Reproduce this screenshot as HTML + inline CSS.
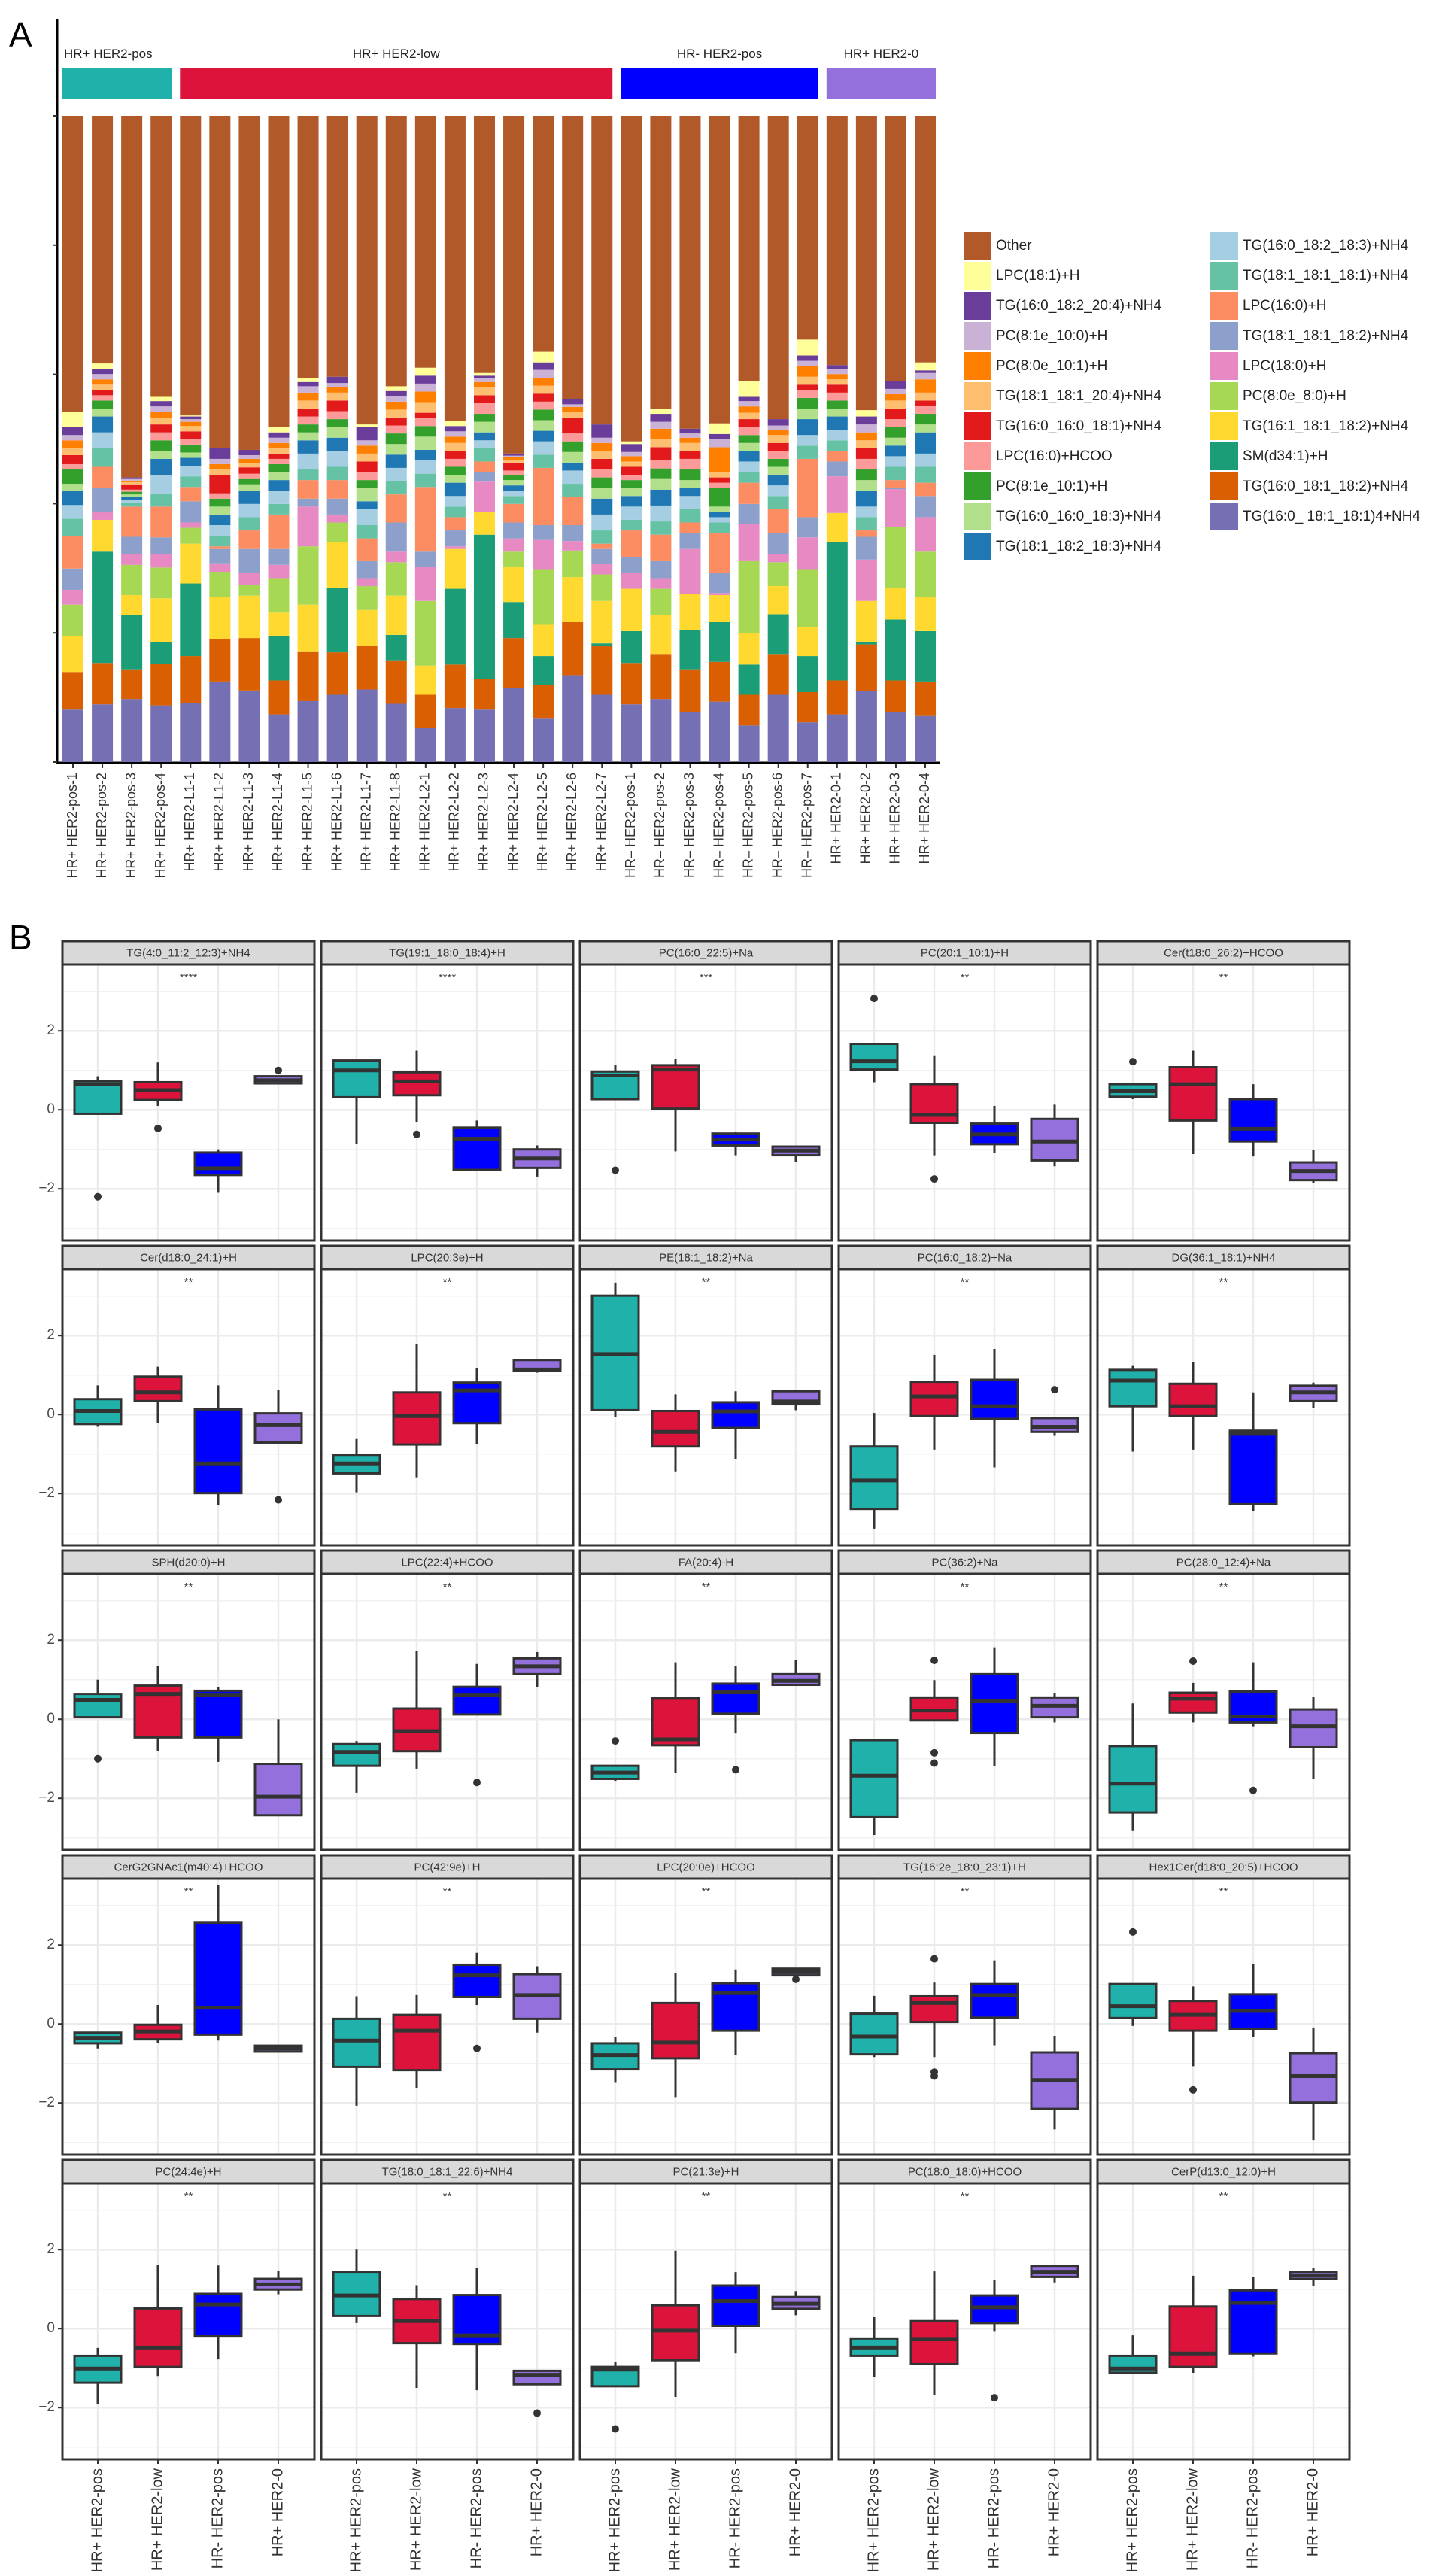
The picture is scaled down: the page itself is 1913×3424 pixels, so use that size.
<!DOCTYPE html>
<html><head><meta charset="utf-8">
<style>
html,body{margin:0;padding:0;background:#fff;}
svg{display:block;font-family:"Liberation Sans",sans-serif;}
</style></head>
<body>
<svg id="fig" xmlns="http://www.w3.org/2000/svg" width="1913" height="3424" viewBox="0 0 1913 3424"></svg>
<script>
// ---------- Panel A data ----------
const groupNames=["HR+ HER2-pos","HR+ HER2-low","HR- HER2-pos","HR+ HER2-0"];
const groupSizes=[4,15,7,4];
const groupColors=["#20B2AA","#DC143C","#0000FF","#9370DB"];
const barLabels=["HR+ HER2-pos-1","HR+ HER2-pos-2","HR+ HER2-pos-3","HR+ HER2-pos-4",
"HR+ HER2-L1-1","HR+ HER2-L1-2","HR+ HER2-L1-3","HR+ HER2-L1-4","HR+ HER2-L1-5","HR+ HER2-L1-6","HR+ HER2-L1-7","HR+ HER2-L1-8",
"HR+ HER2-L2-1","HR+ HER2-L2-2","HR+ HER2-L2-3","HR+ HER2-L2-4","HR+ HER2-L2-5","HR+ HER2-L2-6","HR+ HER2-L2-7",
"HR– HER2-pos-1","HR– HER2-pos-2","HR– HER2-pos-3","HR– HER2-pos-4","HR– HER2-pos-5","HR– HER2-pos-6","HR– HER2-pos-7",
"HR+ HER2-0-1","HR+ HER2-0-2","HR+ HER2-0-3","HR+ HER2-0-4"];
// stacking order bottom -> top
const lipidNames=["TG(16:0_ 18:1_18:1)4+NH4","TG(16:0_18:1_18:2)+NH4","SM(d34:1)+H","TG(16:1_18:1_18:2)+NH4","PC(8:0e_8:0)+H","LPC(18:0)+H","TG(18:1_18:1_18:2)+NH4","LPC(16:0)+H","TG(18:1_18:1_18:1)+NH4","TG(16:0_18:2_18:3)+NH4","TG(18:1_18:2_18:3)+NH4","TG(16:0_16:0_18:3)+NH4","PC(8:1e_10:1)+H","LPC(16:0)+HCOO","TG(16:0_16:0_18:1)+NH4","TG(18:1_18:1_20:4)+NH4","PC(8:0e_10:1)+H","PC(8:1e_10:0)+H","TG(16:0_18:2_20:4)+NH4","LPC(18:1)+H","Other"];
const lipidColors=["#7570B3","#D95F02","#1B9E77","#FFD92F","#A6D854","#E78AC3","#8DA0CB","#FC8D62","#66C2A5","#A6CEE3","#1F78B4","#B2DF8A","#33A02C","#FB9A99","#E31A1C","#FDBF6F","#FF7F00","#CAB2D6","#6A3D9A","#FFFF99","#B15928"];
const barValues=[
[99,71,0,67,60,28,40,62,32,26,27,13,27,10,17,13,15,10,15,28,559],
[109,78,210,60,0,15,45,40,35,30,30,15,15,10,10,10,10,10,10,10,467],
[119,56,102,38,57,20,33,57,8,5,5,5,5,4,10,4,3,3,3,0,682],
[107,78,42,82,58,25,32,58,25,35,30,15,20,15,15,12,12,10,10,8,530],
[112,88,137,75,30,10,40,27,20,20,15,10,15,10,15,10,8,5,5,2,565],
[152,80,0,80,47,16,27,5,20,20,20,15,15,10,35,10,10,10,20,0,627],
[135,99,0,80,20,23,45,35,25,25,25,12,10,10,12,8,8,7,10,0,630],
[90,64,83,45,65,25,30,65,20,25,20,15,15,10,10,10,10,10,10,10,587],
[115,94,0,88,110,75,15,35,20,30,25,15,15,15,15,15,15,12,8,8,494],
[127,80,122,86,37,15,30,35,25,30,25,20,15,15,20,15,10,8,12,0,492],
[137,82,0,68,45,15,32,43,25,30,15,25,15,15,20,15,15,10,25,5,582],
[110,82,48,74,63,20,55,53,25,25,25,20,20,15,15,15,15,10,10,9,510],
[64,63,0,55,122,65,28,122,25,25,20,25,20,15,10,20,20,15,15,15,475],
[102,82,143,75,0,5,30,25,20,20,25,15,15,15,15,15,12,10,10,10,575],
[99,58,272,43,0,57,18,20,25,15,15,20,15,20,15,15,10,7,5,5,485],
[140,94,68,67,28,25,30,35,15,10,10,10,10,8,15,5,5,3,4,0,637],
[82,63,55,59,105,55,28,108,25,25,20,20,20,15,15,15,15,15,14,20,445],
[164,100,0,85,50,18,30,53,25,25,15,20,20,15,30,10,10,5,9,0,535],
[127,92,5,80,50,20,28,10,25,30,30,20,20,15,20,15,15,10,25,0,582],
[109,78,60,80,0,30,30,50,20,25,20,15,15,10,15,10,10,8,15,5,614],
[119,85,0,73,50,20,32,50,25,30,30,20,20,15,25,15,20,13,15,10,552],
[95,80,74,68,0,85,30,20,25,25,15,15,20,20,15,15,10,8,9,0,590],
[114,75,75,51,0,4,38,75,20,10,10,10,35,10,10,10,47,15,10,20,580],
[69,58,57,60,135,70,38,40,20,20,20,15,15,15,15,12,12,10,8,30,500],
[127,77,75,53,45,15,40,45,25,20,20,15,15,15,15,15,10,8,12,0,572],
[75,57,68,55,109,60,38,110,25,20,30,20,20,15,10,15,20,10,10,30,422],
[90,64,261,55,0,69,28,20,20,20,25,15,15,15,15,10,10,10,7,0,470],
[134,88,5,77,0,78,43,12,25,20,30,20,20,20,20,15,15,15,15,12,555],
[94,60,115,60,115,71,2,15,25,20,20,15,20,15,20,15,12,10,15,0,500],
[87,65,95,65,85,65,40,25,30,25,40,15,20,15,10,15,25,12,5,15,465]
];
const yTicksA=[0,0.2,0.4,0.6,0.8,1.0];

// ---------- Panel B data ----------
const catNames=["HR+ HER2-pos","HR+ HER2-low","HR- HER2-pos","HR+ HER2-0"];
const catColors=["#20B2AA","#DC143C","#0000FF","#9370DB"];
const facetTitles=["TG(4:0_11:2_12:3)+NH4","TG(19:1_18:0_18:4)+H","PC(16:0_22:5)+Na","PC(20:1_10:1)+H","Cer(t18:0_26:2)+HCOO",
"Cer(d18:0_24:1)+H","LPC(20:3e)+H","PE(18:1_18:2)+Na","PC(16:0_18:2)+Na","DG(36:1_18:1)+NH4",
"SPH(d20:0)+H","LPC(22:4)+HCOO","FA(20:4)-H","PC(36:2)+Na","PC(28:0_12:4)+Na",
"CerG2GNAc1(m40:4)+HCOO","PC(42:9e)+H","LPC(20:0e)+HCOO","TG(16:2e_18:0_23:1)+H","Hex1Cer(d18:0_20:5)+HCOO",
"PC(24:4e)+H","TG(18:0_18:1_22:6)+NH4","PC(21:3e)+H","PC(18:0_18:0)+HCOO","CerP(d13:0_12:0)+H"];
const facetSig=["****","****","***","**","**","**","**","**","**","**","**","**","**","**","**","**","**","**","**","**","**","**","**","**","**"];
// [whisker-low, q1, median, q3, whisker-high]
const boxStats=[
[[-0.1,-0.1,0.65,0.73,0.85],[0.1,0.25,0.5,0.7,1.2],[-2.1,-1.65,-1.48,-1.08,-1.0],[0.67,0.67,0.75,0.85,0.85]],
[[-0.87,0.32,1.0,1.25,1.25],[-0.3,0.37,0.72,0.95,1.5],[-1.52,-1.52,-0.73,-0.45,-0.27],[-1.69,-1.47,-1.23,-1.0,-0.9]],
[[0.27,0.27,0.87,0.97,1.13],[-1.05,0.03,1.02,1.13,1.28],[-1.15,-0.9,-0.75,-0.6,-0.55],[-1.32,-1.15,-1.03,-0.93,-0.93]],
[[0.7,1.02,1.23,1.67,1.67],[-1.15,-0.33,-0.13,0.65,1.38],[-1.1,-0.87,-0.62,-0.35,0.1],[-1.43,-1.28,-0.8,-0.23,0.13]],
[[0.27,0.33,0.47,0.65,0.65],[-1.12,-0.27,0.65,1.08,1.5],[-1.18,-0.8,-0.48,0.27,0.65],[-1.85,-1.78,-1.55,-1.33,-1.02]],
[[-0.31,-0.24,0.09,0.39,0.74],[-0.21,0.34,0.56,0.96,1.21],[-2.29,-1.99,-1.24,0.13,0.74],[-0.71,-0.71,-0.27,0.03,0.63]],
[[-1.97,-1.49,-1.24,-1.02,-0.62],[-1.59,-0.76,-0.04,0.56,1.78],[-0.74,-0.22,0.61,0.81,1.18],[1.06,1.11,1.14,1.38,1.38]],
[[-0.07,0.11,1.53,3.01,3.34],[-1.44,-0.81,-0.44,0.09,0.51],[-1.12,-0.34,0.08,0.31,0.59],[0.11,0.26,0.33,0.59,0.59]],
[[-2.89,-2.39,-1.67,-0.81,0.04],[-0.89,-0.04,0.46,0.83,1.51],[-1.34,-0.11,0.21,0.88,1.66],[-0.54,-0.44,-0.31,-0.09,-0.09]],
[[-0.94,0.21,0.86,1.13,1.23],[-0.89,-0.04,0.21,0.78,1.33],[-2.44,-2.27,-0.49,-0.41,0.56],[0.16,0.34,0.56,0.73,0.81]],
[[0.05,0.05,0.49,0.64,1.0],[-0.8,-0.46,0.64,0.85,1.35],[-1.08,-0.46,0.62,0.72,0.82],[-2.43,-2.43,-1.96,-1.13,0]],
[[-1.86,-1.18,-0.83,-0.63,-0.55],[-1.25,-0.81,-0.3,0.27,1.72],[0.12,0.12,0.62,0.82,1.4],[0.82,1.14,1.34,1.54,1.7]],
[[-1.56,-1.51,-1.35,-1.18,-1.18],[-1.35,-0.66,-0.51,0.54,1.44],[-0.36,0.14,0.69,0.9,1.34],[0.87,0.87,0.97,1.14,1.5]],
[[-2.93,-2.48,-1.43,-0.53,-0.53],[-0.03,-0.03,0.22,0.55,0.99],[-1.18,-0.35,0.47,1.14,1.82],[-0.08,0.05,0.34,0.55,0.67]],
[[-2.83,-2.36,-1.63,-0.68,0.4],[-0.08,0.17,0.52,0.67,0.92],[-0.18,-0.08,0.07,0.7,1.44],[-1.5,-0.71,-0.18,0.25,0.57]],
[[-0.62,-0.49,-0.35,-0.22,-0.22],[-0.49,-0.39,-0.19,-0.02,0.48],[-0.42,-0.27,0.41,2.56,3.51],[-0.7,-0.7,-0.62,-0.55,-0.55]],
[[-2.07,-1.09,-0.42,0.13,0.7],[-1.62,-1.17,-0.17,0.23,0.73],[0.48,0.68,1.23,1.5,1.8],[-0.22,0.13,0.73,1.26,1.46]],
[[-1.49,-1.15,-0.79,-0.49,-0.32],[-1.85,-0.87,-0.47,0.53,1.28],[-0.79,-0.17,0.78,1.03,1.38],[1.23,1.23,1.31,1.4,1.4]],
[[-0.84,-0.77,-0.32,0.26,0.71],[-0.84,0.05,0.53,0.7,1.05],[-0.54,0.16,0.73,1.01,1.61],[-2.67,-2.15,-1.42,-0.72,-0.3]],
[[-0.05,0.15,0.45,1.01,1.01],[-1.07,-0.17,0.23,0.58,0.95],[-0.32,-0.12,0.33,0.75,1.51],[-2.95,-1.99,-1.32,-0.74,-0.09]],
[[-1.9,-1.37,-1.01,-0.69,-0.49],[-1.2,-0.97,-0.48,0.51,1.61],[-0.78,-0.18,0.61,0.88,1.6],[0.87,0.99,1.12,1.26,1.46]],
[[0.14,0.32,0.84,1.44,2.0],[-1.5,-0.37,0.19,0.75,1.1],[-1.56,-0.39,-0.17,0.85,1.54],[-1.41,-1.41,-1.17,-1.07,-1.07]],
[[-1.46,-1.46,-1.04,-0.97,-0.85],[-1.73,-0.8,-0.05,0.59,1.97],[-0.63,0.07,0.7,1.09,1.43],[0.34,0.5,0.63,0.8,0.95]],
[[-1.22,-0.69,-0.48,-0.25,0.29],[-1.68,-0.9,-0.26,0.19,1.45],[-0.08,0.14,0.54,0.84,1.24],[1.17,1.31,1.44,1.59,1.6]],
[[-1.12,-1.12,-1.01,-0.69,-0.17],[-1.12,-0.97,-0.63,0.56,1.34],[-0.71,-0.63,0.65,0.97,1.31],[1.09,1.26,1.35,1.44,1.53]]
];
const outlierVals=[
[[-2.2],[-0.47],[],[1.0]],[[],[-0.62],[],[]],[[-1.53],[],[],[]],[[2.82],[-1.75],[],[]],[[1.22],[],[],[]],
[[],[],[],[-2.16]],[[],[],[],[]],[[],[],[],[]],[[],[],[],[0.63]],[[],[],[],[]],
[[-1.0],[],[],[]],[[],[],[-1.6],[]],[[-0.55],[],[-1.28],[]],[[],[1.49,-0.85,-1.11],[],[]],[[],[1.47],[-1.8],[]],
[[],[],[],[]],[[],[],[-0.62],[]],[[],[],[],[1.13]],[[],[1.65,-1.22,-1.32],[],[]],[[2.33],[-1.67],[],[]],
[[],[],[],[]],[[],[],[],[-2.14]],[[-2.54],[],[],[]],[[],[],[-1.75],[]],[[],[],[],[]]
];
const yTicksB=[-2,0,2];
const yMinorB=[-3,-1,1,3];

// ---------- drawing ----------
const NS="http://www.w3.org/2000/svg";
const svg=document.getElementById('fig');
function mk(tag,attrs,parent){const e=document.createElementNS(NS,tag);for(const k in attrs)e.setAttribute(k,attrs[k]);(parent||svg).appendChild(e);return e;}
function txt(str,attrs,parent){const e=mk('text',attrs,parent);e.textContent=str;return e;}

// Panel A scales
const A_BOT=1013, A_TOP=154, A_X0=83, A_PITCH=39.07, A_BW=28;
const yA=f=>A_BOT-f*(A_BOT-A_TOP);
const xA=i=>A_X0+i*A_PITCH;

let el;
el=txt("A",{x:12,y:62,'font-size':46,fill:'#000'});



// axes
el=mk('line',{x1:76,y1:25,x2:76,y2:A_BOT+2,stroke:'#000','stroke-width':3});


el=mk('line',{x1:75,y1:A_BOT+1,x2:1250,y2:A_BOT+1,stroke:'#000','stroke-width':3});


yTicksA.forEach(t=>{
  el=mk('line',{x1:70,y1:yA(t),x2:76,y2:yA(t),stroke:'#333','stroke-width':2});
  
  
});

// group header bars
let start=0;
groupNames.forEach((g,gi)=>{
  const x1=xA(start), x2=xA(start+groupSizes[gi]-1)+A_BW;
  el=mk('rect',{x:x1,y:90,width:x2-x1,height:42,fill:groupColors[gi]});
  
  
  const tx = gi==0? x1+2 : (x1+x2)/2;
  el=txt(g,{x:tx,y:77,'font-size':17,fill:'#222','text-anchor':gi==0?'start':'middle'});
  
  
  start+=groupSizes[gi];
});

// stacked bars
barValues.forEach((vals,i)=>{
  const total=vals.reduce((a,b)=>a+b,0);
  let cum=0;
  vals.forEach((v,k)=>{
    if(v<=0)return;
    const y1=yA((cum+v)/total), y0=yA(cum/total);
    el=mk('rect',{x:xA(i),y:y1,width:A_BW,height:y0-y1,fill:lipidColors[k]});
    
    
    cum+=v;
  });
  const cx=xA(i)+A_BW/2;
  el=mk('line',{x1:cx,y1:A_BOT+2,x2:cx,y2:A_BOT+8,stroke:'#333','stroke-width':2});
  
  
  el=txt(barLabels[i],{x:cx,y:A_BOT+14,'font-size':18,fill:'#333','text-anchor':'end','dominant-baseline':'middle',transform:`rotate(-90 ${cx} ${A_BOT+14})`});
  
  
});

// legend
for(let r=0;r<lipidNames.length;r++){
  const k=lipidNames.length-1-r;
  const col=r<11?0:1, row=r<11?r:r-11;
  const sx=col==0?1281:1609, sy=308+row*40;
  el=mk('rect',{x:sx,y:sy,width:37,height:37,fill:lipidColors[k]});
  
  
  el=txt(lipidNames[k],{x:sx+43,y:sy+19,'font-size':19,fill:'#222','dominant-baseline':'middle'});
  
  
}

// Panel B
el=txt("B",{x:12,y:1262,'font-size':46,fill:'#000'});



const P_X0=83, P_PITCH=344, P_W=335, R_Y0=1251, R_PITCH=405, STRIP=31, P_H=367;
const V_TOP=3.68, V_UNIT=52.5;
const catOff=[47,127,207,287];
const BOXW=62;

facetTitles.forEach((title,f)=>{
  const col=f%5, row=Math.floor(f/5);
  const px=P_X0+col*P_PITCH, top=R_Y0+row*R_PITCH, ptop=top+STRIP;
  const yB=v=>ptop+(V_TOP-v)*V_UNIT;
  const g=mk('g',{});
  
  
  el=mk('rect',{x:px,y:ptop,width:P_W,height:P_H,fill:'#fff'},g);
  
  
  yMinorB.forEach(t=>{
    el=mk('line',{x1:px,y1:yB(t),x2:px+P_W,y2:yB(t),stroke:'#F2F2F2','stroke-width':1.5},g);
    
    
  });
  yTicksB.forEach(t=>{
    el=mk('line',{x1:px,y1:yB(t),x2:px+P_W,y2:yB(t),stroke:'#EBEBEB','stroke-width':2.5},g);
    
    
  });
  catOff.forEach(o=>{
    el=mk('line',{x1:px+o,y1:ptop,x2:px+o,y2:ptop+P_H,stroke:'#EBEBEB','stroke-width':2.5},g);
    
    
  });
  // boxes
  boxStats[f].forEach((s,c)=>{
    const cx=px+catOff[c];
    el=mk('line',{x1:cx,y1:yB(s[0]),x2:cx,y2:yB(s[4]),stroke:'#333','stroke-width':3},g);
    
    
    const y3=yB(s[3]), y1=yB(s[1]);
    el=mk('rect',{x:cx-BOXW/2,y:y3,width:BOXW,height:Math.max(y1-y3,1),fill:catColors[c],stroke:'#333','stroke-width':3},g);
    
    
    el=mk('line',{x1:cx-BOXW/2,y1:yB(s[2]),x2:cx+BOXW/2,y2:yB(s[2]),stroke:'#333','stroke-width':5},g);
    
    
    outlierVals[f][c].forEach(v=>{
      el=mk('circle',{cx:cx,cy:yB(v),r:5,fill:'#333'},g);
      
      
    });
  });
  // significance
  el=txt(facetSig[f],{x:px+P_W/2,y:ptop+22,'font-size':15,fill:'#444','text-anchor':'middle'},g);
  
  
  // border
  el=mk('rect',{x:px,y:ptop,width:P_W,height:P_H,fill:'none',stroke:'#333','stroke-width':3},g);
  
  
  // strip
  el=mk('rect',{x:px,y:top,width:P_W,height:STRIP,fill:'#D9D9D9',stroke:'#333','stroke-width':3},g);
  
  
  el=txt(title,{x:px+P_W/2,y:top+STRIP/2+1,'font-size':15,fill:'#333','text-anchor':'middle','dominant-baseline':'middle'},g);
  
  
  // y axis labels on first column
  if(col==0){
    yTicksB.forEach(t=>{
      el=mk('line',{x1:px-6,y1:yB(t),x2:px,y2:yB(t),stroke:'#333','stroke-width':2});
      
      
      el=txt(t<0?'−'+Math.abs(t):String(t),{x:px-10,y:yB(t),'font-size':19,fill:'#4D4D4D','text-anchor':'end','dominant-baseline':'middle'});
      
      
    });
  }
  // x labels on bottom row
  if(row==4){
    catNames.forEach((n,c)=>{
      const cx=px+catOff[c], by=ptop+P_H;
      el=mk('line',{x1:cx,y1:by,x2:cx,y2:by+6,stroke:'#333','stroke-width':2});
      
      
      el=txt(n,{x:cx,y:by+12,'font-size':20,fill:'#333','text-anchor':'end','dominant-baseline':'middle',transform:`rotate(-90 ${cx} ${by+12})`});
      
      
    });
  }
});
</script>
</body></html>
